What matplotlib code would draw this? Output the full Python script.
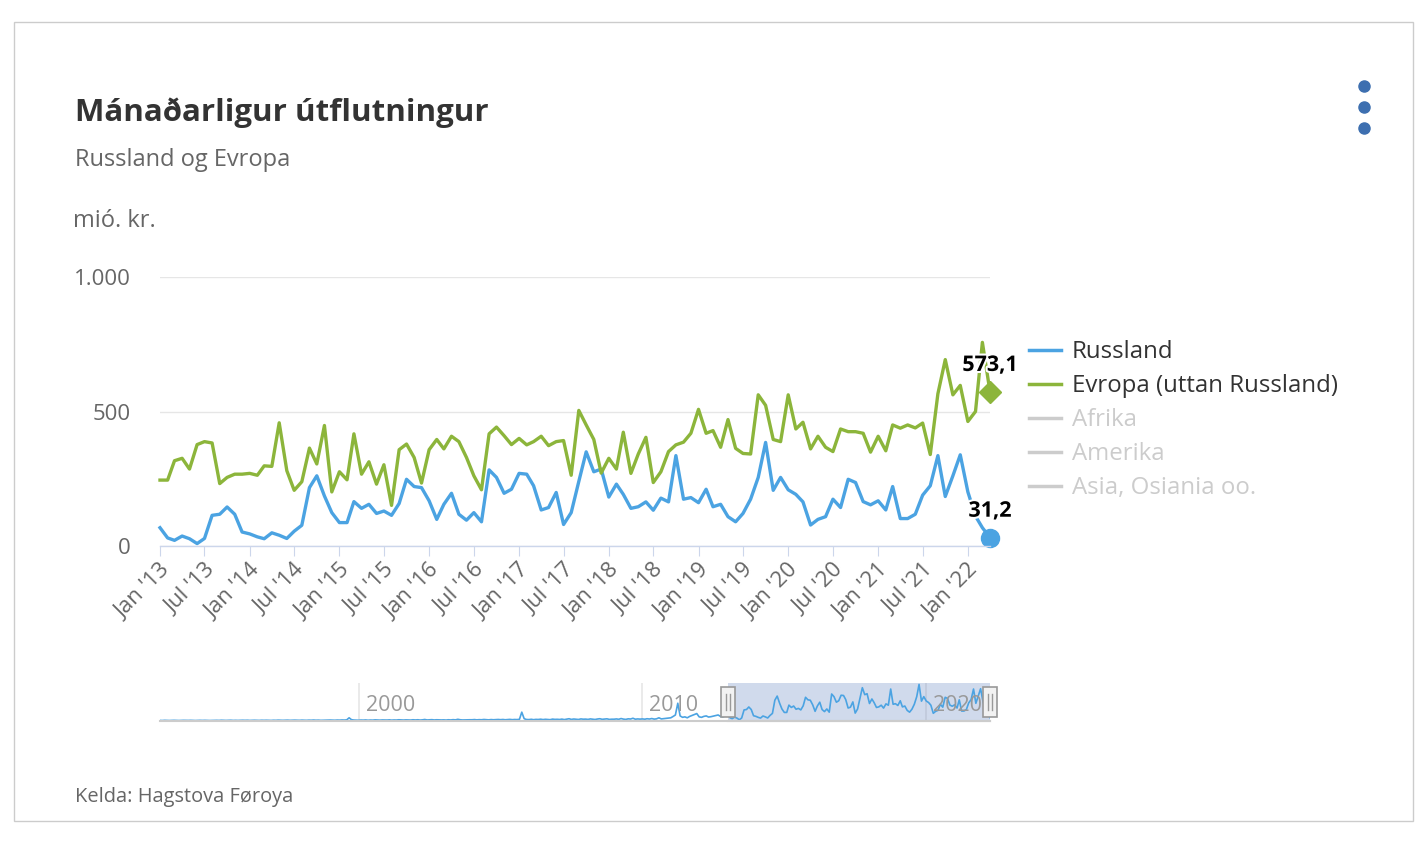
import numpy as np
import pandas as pd
import matplotlib
matplotlib.use("Agg")
import matplotlib.pyplot as plt
import matplotlib.dates as mdates
from matplotlib.lines import Line2D
from matplotlib.patches import Rectangle
from matplotlib.ticker import FuncFormatter
import matplotlib.patheffects as pe

plt.rcParams['font.family'] = ['Open Sans', 'DejaVu Sans']

# mió. kr., mánaðarlig tøl jan 2013 - apr 2022
russland = [68, 30, 21, 37, 27, 9, 28, 114, 118, 145, 118, 52,
            45, 34, 27, 49, 40, 28, 55, 77, 217, 261, 186, 124,
            87, 87, 165, 140, 155, 121, 130, 114, 158, 248, 221, 217,
            168, 99, 155, 196, 118, 96, 124, 90, 283, 255, 196, 211,
            270, 267, 224, 134, 143, 199, 80, 124, 240, 350, 276, 286,
            182, 230, 192, 140, 146, 164, 133, 178, 164, 336, 174, 180,
            161, 211, 146, 155, 109, 90, 121, 174, 255, 385, 207, 255,
            209, 192, 164, 78, 99, 109, 174, 143, 248, 236, 165, 153,
            168, 134, 221, 102, 102, 118, 189, 224, 336, 184, 261, 339,
            201, 111, 68, 31.2]
evropa = [245, 245, 317, 326, 286, 377, 388, 383, 232, 255, 267, 267,
          270, 263, 298, 296, 458, 280, 207, 239, 364, 305, 448, 201,
          276, 246, 417, 267, 313, 230, 302, 151, 358, 379, 329, 234,
          358, 396, 361, 408, 388, 329, 261, 209, 417, 442, 410, 377,
          400, 376, 388, 408, 373, 388, 392, 263, 504, 450, 396, 271,
          326, 286, 423, 270, 342, 404, 236, 276, 351, 376, 386, 419,
          508, 419, 429, 367, 470, 363, 344, 342, 562, 523, 396, 388,
          562, 435, 460, 361, 408, 367, 351, 435, 425, 425, 419, 349,
          408, 354, 450, 438, 450, 439, 457, 340, 566, 693, 562, 597,
          463, 500, 757, 573.1]

# Russland 1993-2012 (bert í navigatorinum)
russland_early = [2, 1, 3, 2, 1, 2, 3, 2, 1, 2, 3, 2,
                  2, 3, 2, 1, 2, 3, 2, 3, 2, 1, 2, 3,
                  3, 2, 4, 3, 2, 3, 4, 2, 3, 2, 3, 4,
                  3, 4, 2, 3, 4, 3, 2, 4, 3, 4, 3, 2,
                  4, 3, 5, 4, 3, 4, 5, 3, 4, 5, 4, 3,
                  5, 4, 3, 5, 4, 6, 4, 5, 3, 4, 6, 5,
                  6, 5, 4, 6, 5, 7, 6, 8, 30, 10, 6, 5,
                  4, 6, 5, 7, 4, 6, 5, 8, 6, 5, 7, 6,
                  6, 8, 5, 7, 6, 9, 7, 6, 8, 7, 6, 9,
                  7, 9, 6, 8, 12, 7, 8, 10, 7, 9, 8, 7,
                  8, 6, 9, 7, 10, 8, 14, 9, 7, 8, 10, 9,
                  9, 11, 8, 10, 9, 12, 10, 8, 11, 9, 10, 12,
                  10, 12, 9, 11, 13, 10, 12, 11, 14, 90, 20, 12,
                  11, 14, 10, 13, 12, 15, 11, 14, 12, 10, 16, 13,
                  14, 12, 16, 11, 15, 20, 13, 17, 14, 12, 18, 15,
                  16, 13, 18, 15, 12, 17, 20, 14, 16, 19, 13, 15,
                  15, 18, 14, 22, 16, 13, 19, 17, 25, 15, 18, 16,
                  18, 15, 20, 17, 22, 16, 19, 30, 18, 21, 25, 28,
                  30, 45, 60, 185, 50, 35, 40, 30, 45, 55, 65, 75,
                  40, 35, 45, 50, 38, 42, 48, 55, 60, 45, 40, 50]

legend_labels = ["Russland", "Evropa (uttan Russland)", "Afrika", "Amerika", "Asia, Osiania oo."]
nav_years = [2000, 2010, 2020]

BLUE = '#4ba3e2'
GREEN = '#8cb53b'
W, H = 1422, 842

dates = pd.date_range('2013-01-01', periods=len(russland), freq='MS').to_pydatetime()
early_dates = pd.date_range('1993-01-01', periods=len(russland_early), freq='MS').to_pydatetime()
all_dates = list(early_dates) + list(dates)
all_russ = russland_early + russland


def fx(px):
    return px / W


def fy(py):
    return 1 - py / H


fig = plt.figure(figsize=(W / 100, H / 100), dpi=100)
fig.add_artist(Rectangle((fx(14), fy(821)), fx(1413) - fx(14), fy(22) - fy(821),
                         transform=fig.transFigure, fill=False, ec='#cccccc', lw=1))

# main chart
ax = fig.add_axes([fx(160), fy(546), fx(990) - fx(160), fy(277) - fy(546)])
ax.plot(dates, russland, color=BLUE, lw=2.4, clip_on=False)
ax.plot(dates, evropa, color=GREEN, lw=2.4, clip_on=False)
ax.plot(dates[-1], russland[-1], 'o', color=BLUE, ms=13, clip_on=False)
ax.plot(dates[-1], evropa[-1], 'D', color=GREEN, ms=11, clip_on=False)

for val in (russland[-1], evropa[-1]):
    t = ax.annotate(f"{val:.1f}".replace('.', ','), (dates[-1], val), xytext=(0, 19),
                    textcoords='offset points', ha='center', va='center',
                    fontsize=15.5, fontweight='bold', color='black')
    t.set_path_effects([pe.withStroke(linewidth=3, foreground='white')])

ax.set_xlim(dates[0], dates[-1])
ax.set_ylim(0, 1000)
ax.set_yticks([0, 500, 1000])
ax.yaxis.set_major_formatter(FuncFormatter(lambda v, p: f"{int(v):,}".replace(',', '.')))
ax.grid(axis='y', color='#e6e6e6', lw=1)
ax.set_axisbelow(True)
for s in ('top', 'right', 'left'):
    ax.spines[s].set_visible(False)
ax.spines['bottom'].set_color('#ccd6eb')
ax.spines['bottom'].set_linewidth(1)

ticks = pd.date_range('2013-01-01', '2022-01-01', freq='6MS')
ax.set_xticks(ticks.to_pydatetime())
ax.set_xticklabels([f"{d.strftime('%b')} '{d.strftime('%y')}" for d in ticks],
                   rotation=45, ha='right', rotation_mode='anchor')
ax.tick_params(axis='x', length=7, color='#ccd6eb', labelcolor='#666666', labelsize=16, pad=3)
ax.tick_params(axis='y', length=0, labelcolor='#666666', labelsize=16, pad=21)

# titles
fig.text(fx(75), fy(121), "Mánaðarligur útflutningur", fontsize=22.5, fontweight='bold',
         color='#333333', va='baseline')
fig.text(fx(75), fy(166), "Russland og Evropa", fontsize=17, color='#666666', va='baseline')
fig.text(fx(73), fy(227), "mió. kr.", fontsize=17, color='#666666', va='baseline')
fig.text(fx(75), fy(802), "Kelda: Hagstova Føroya", fontsize=14.4, color='#666666', va='baseline')

# legend
colors = [BLUE, GREEN, '#cccccc', '#cccccc', '#cccccc']
handles = [Line2D([], [], color=c, lw=2.5) for c in colors]
fig.legend(handles, legend_labels, loc='upper left', bbox_to_anchor=(fx(1029), fy(340)),
           frameon=False, fontsize=17.3, handlelength=1.35, handletextpad=0.42,
           labelspacing=0.42, labelcolor=['#333333', '#333333', '#cccccc', '#cccccc', '#cccccc'],
           borderaxespad=0, borderpad=0)

# menu dots
for yy in (86, 107, 128):
    fig.add_artist(Line2D([fx(1364)], [fy(yy)], marker='o', ms=8, color='#3d6fb0',
                          transform=fig.transFigure))

# navigator
nav = fig.add_axes([fx(160), fy(721), fx(990) - fx(160), fy(683) - fy(721)])
nav.plot(all_dates, all_russ, color=BLUE, lw=1.2)
nav.set_xlim(all_dates[0], all_dates[-1])
nav.set_ylim(-4, 400)
nav.set_xticks([])
nav.set_yticks([])
for s in nav.spines.values():
    s.set_visible(False)
for yr in nav_years:
    d = pd.Timestamp(f'{yr}-01-01').to_pydatetime()
    nav.axvline(d, color='#e6e6e6', lw=1.2, zorder=0)
    nav.annotate(str(yr), (d, 0.4), xycoords=('data', 'axes fraction'), xytext=(5, 0),
                 textcoords='offset points', va='center', ha='left', fontsize=15.5, color='#999999')
nav.axvspan(dates[0], dates[-1], color='#6685c2', alpha=0.3, lw=0)
nav.axhline(1, color='#cccccc', lw=1.5, clip_on=False)
nav.plot([dates[0], dates[-1]], [0, 0], transform=nav.get_xaxis_transform(),
         color='#cccccc', lw=1.5, clip_on=False)

# handles at both ends of the selected range
inv = fig.transFigure.inverted()
for d in (dates[0], dates[-1]):
    xd = nav.transData.transform((mdates.date2num(d), 0))[0]
    yc = nav.transAxes.transform((0, 0.5))[1]
    x0, y0 = inv.transform((xd - 7, yc - 15))
    x1, y1 = inv.transform((xd + 7, yc + 15))
    fig.add_artist(Rectangle((x0, y0), x1 - x0, y1 - y0, transform=fig.transFigure,
                             fc='#f2f2f2', ec='#999999', lw=1.2))
    for off in (-2, 2):
        a, b = inv.transform((xd + off, yc - 8))
        c, e = inv.transform((xd + off, yc + 8))
        fig.add_artist(Line2D([a, c], [b, e], color='#999999', lw=1, transform=fig.transFigure))

fig.savefig("out.png", dpi=100)
